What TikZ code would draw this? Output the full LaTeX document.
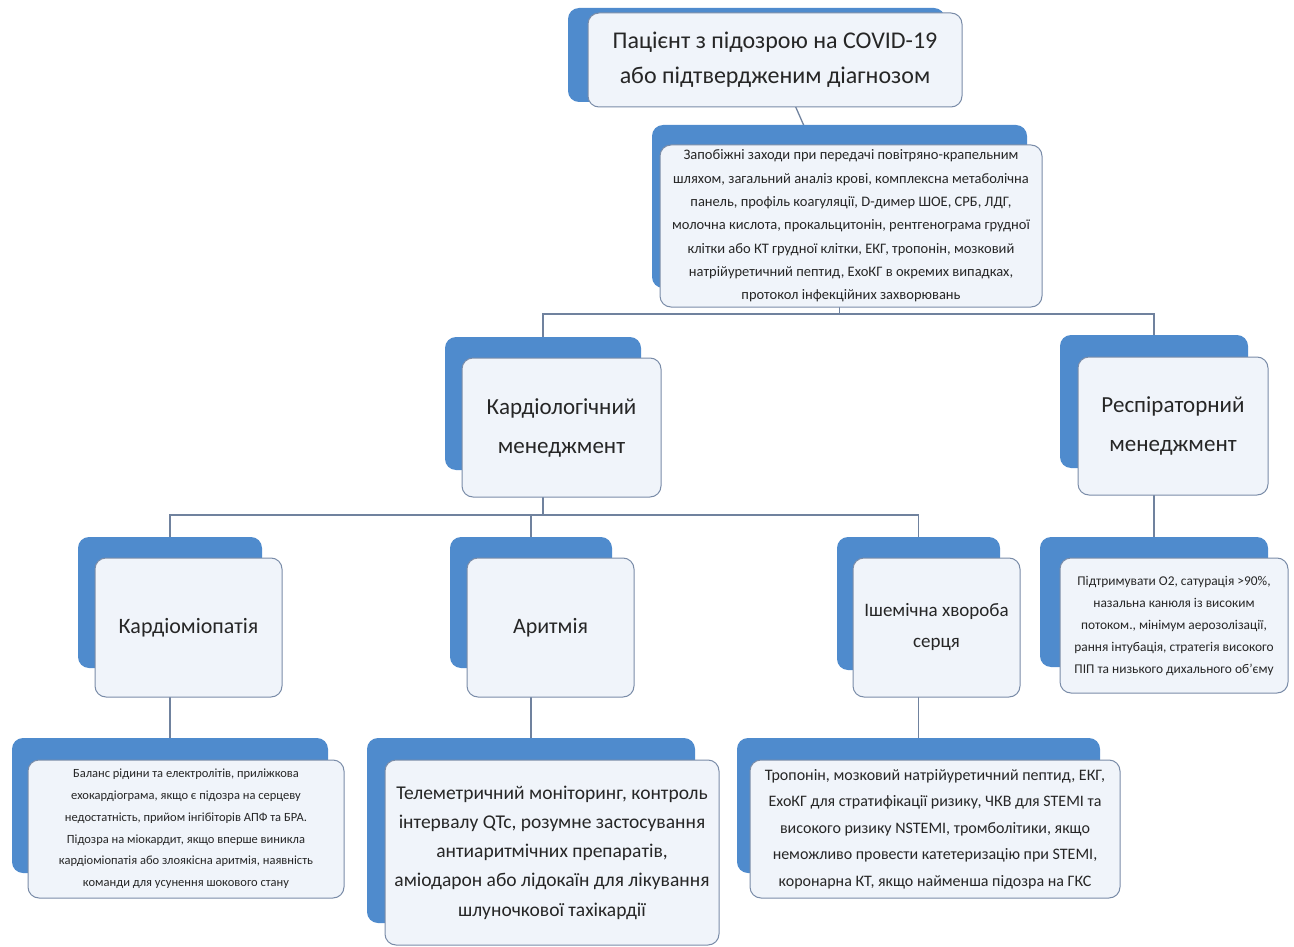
\documentclass[tikz,border=0pt]{standalone}
\usepackage{fontspec}
\setmainfont{Carlito}
\usetikzlibrary{backgrounds}
\definecolor{blueback}{RGB}{79,139,205}
\definecolor{frontfill}{RGB}{240,244,250}
\definecolor{frontline}{RGB}{122,140,168}
\definecolor{connline}{RGB}{112,130,158}
\definecolor{textcol}{RGB}{38,38,38}

\begin{document}
\begin{tikzpicture}[
  x=1pt,y=-1pt,
  backbox/.style={fill=blueback,rounded corners=11pt,inner sep=0pt},
  frontbox/.style={draw=frontline,line width=1pt,fill=frontfill,rounded corners=11pt,
    inner sep=0pt,align=center,text=textcol},
  conn/.style={connline,line width=1.3pt},
  titletext/.style={font=\fontsize{24}{35}\selectfont},
  mgmttext/.style={font=\fontsize{23}{39}\selectfont},
  condtext/.style={font=\fontsize{22}{31}\selectfont}
]
\useasboundingbox (0,0) rectangle (1294,947);

%%%%%%%%%%%%%%%%%%%%%%%%%%%%%%%%%%%%%%%%%%%%%%%%%%%%
% Patient and first measures
%%%%%%%%%%%%%%%%%%%%%%%%%%%%%%%%%%%%%%%%%%%%%%%%%%%%
\node[backbox,minimum width=377pt,minimum height=94pt] (TopB) at (756.5,55) {};
\node[frontbox,titletext,minimum width=374pt,minimum height=94pt] (TopW) at (775,60)
  {Пацієнт з підозрою на COVID-19\\або підтвердженим діагнозом};

\node[backbox,minimum width=375pt,minimum height=163pt] (InfoB) at (839.5,206.5) {};
\node[frontbox,font=\fontsize{14.5}{23.3}\selectfont,minimum width=382pt,minimum height=162pt] (InfoW) at (851,226)
  {Запобіжні заходи при передачі повітряно-крапельним\\
   шляхом, загальний аналіз крові, комплексна метаболічна\\
   панель, профіль коагуляції, D-димер ШОЕ, СРБ, ЛДГ,\\
   молочна кислота, прокальцитонін, рентгенограма грудної\\
   клітки або КТ грудної клітки,  ЕКГ, тропонін, мозковий\\
   натрійуретичний пептид, ЕхоКГ в окремих випадках,\\
   протокол інфекційних захворювань};

%%%%%%%%%%%%%%%%%%%%%%%%%%%%%%%%%%%%%%%%%%%%%%%%%%%%
% Management
%%%%%%%%%%%%%%%%%%%%%%%%%%%%%%%%%%%%%%%%%%%%%%%%%%%%
\node[backbox,minimum width=196pt,minimum height=133pt] (KardB) at (543,403.5) {};
\node[frontbox,mgmttext,minimum width=199pt,minimum height=139pt] (KardW) at (561.5,427.5)
  {Кардіологічний\\менеджмент};

\node[backbox,minimum width=188pt,minimum height=133pt] (RespB) at (1154,401.5) {};
\node[frontbox,mgmttext,minimum width=190pt,minimum height=138pt] (RespW) at (1173,426)
  {Респіраторний\\менеджмент};

%%%%%%%%%%%%%%%%%%%%%%%%%%%%%%%%%%%%%%%%%%%%%%%%%%%%
% Cardiac conditions
%%%%%%%%%%%%%%%%%%%%%%%%%%%%%%%%%%%%%%%%%%%%%%%%%%%%
\node[backbox,minimum width=184pt,minimum height=131pt] (CmB) at (170,602.5) {};
\node[frontbox,condtext,minimum width=187pt,minimum height=139pt] (CmW) at (188.5,627.5)
  {Кардіоміопатія};

\node[backbox,minimum width=162pt,minimum height=131pt] (ArB) at (531,602.5) {};
\node[frontbox,condtext,minimum width=167pt,minimum height=139pt] (ArW) at (550.5,627.5)
  {Аритмія};

\node[backbox,minimum width=163pt,minimum height=133pt] (IhB) at (918.5,603.5) {};
\node[frontbox,font=\fontsize{19}{31}\selectfont,minimum width=167pt,minimum height=139pt] (IhW) at (936.5,627.5)
  {Ішемічна хвороба\\серця};

\node[backbox,minimum width=228pt,minimum height=130pt] (RdB) at (1154,602) {};
\node[frontbox,font=\fontsize{13.4}{22}\selectfont,minimum width=228pt,minimum height=135pt] (RdW) at (1174,625.5)
  {Підтримувати О2, сатурація >90\%,\\
   назальна канюля із високим\\
   потоком.,  мінімум аерозолізації,\\
   рання інтубація, стратегія високого\\
   ПІП та низького дихального об’єму};

%%%%%%%%%%%%%%%%%%%%%%%%%%%%%%%%%%%%%%%%%%%%%%%%%%%%
% Details
%%%%%%%%%%%%%%%%%%%%%%%%%%%%%%%%%%%%%%%%%%%%%%%%%%%%
\node[backbox,minimum width=316pt,minimum height=135pt] (BalB) at (170,805.5) {};
\node[frontbox,font=\fontsize{12.5}{21.8}\selectfont,minimum width=316pt,minimum height=138pt] (BalW) at (186,829)
  {Баланс рідини та електролітів, приліжкова\\
   ехокардіограма, якщо є підозра на серцеву\\
   недостатність, прийом інгібіторів АПФ та БРА.\\
   Підозра на міокардит, якщо вперше виникла\\
   кардіоміопатія або злоякісна аритмія, наявність\\
   команди для усунення шокового стану};

\node[backbox,minimum width=328pt,minimum height=185pt] (TelB) at (531,830.5) {};
\node[frontbox,font=\fontsize{19.5}{29.3}\selectfont,minimum width=334pt,minimum height=185pt] (TelW) at (552,852.5)
  {Телеметричний  моніторинг, контроль\\
   інтервалу QTc, розумне застосування\\
   антиаритмічних  препаратів,\\
   аміодарон або лідокаїн для лікування\\
   шлуночкової тахікардії};

\node[backbox,minimum width=363pt,minimum height=135pt] (TrB) at (918.5,805.5) {};
\node[frontbox,font=\fontsize{16}{26.5}\selectfont,minimum width=370pt,minimum height=138pt] (TrW) at (935,829)
  {Тропонін, мозковий натрійуретичний пептид, ЕКГ,\\
   ЕхоКГ для стратифікації ризику, ЧКВ для  STEMI та\\
   високого ризику NSTEMI, тромболітики, якщо\\
   неможливо провести катетеризацію при STEMI,\\
   коронарна КТ, якщо найменша підозра на ГКС};

% connectors behind the boxes
\coordinate (BusA) at (0,314);
\coordinate (BusB) at (0,515);
\begin{pgfonlayer}{background}
\draw[conn] (TopW.center) -- (InfoB.center);
\draw[conn] (InfoB.center) -- (InfoB |- BusA) -| (KardB.center);
\draw[conn] (InfoB |- BusA) -| (RespB.center);
\draw[conn] (KardB.center) -- (KardB |- BusB) -| (CmB.center);
\draw[conn] (KardB |- BusB) -| (ArB.center);
\draw[conn] (KardB |- BusB) -| (IhB.center);
\draw[conn] (RespB.center) -- (RdB.center);
\draw[conn] (CmB.center) -- (BalB.center);
\draw[conn] (ArB.center) -- (TelB.center);
\draw[conn] (IhB.center) -- (TrB.center);
\end{pgfonlayer}

\end{tikzpicture}
\end{document}
